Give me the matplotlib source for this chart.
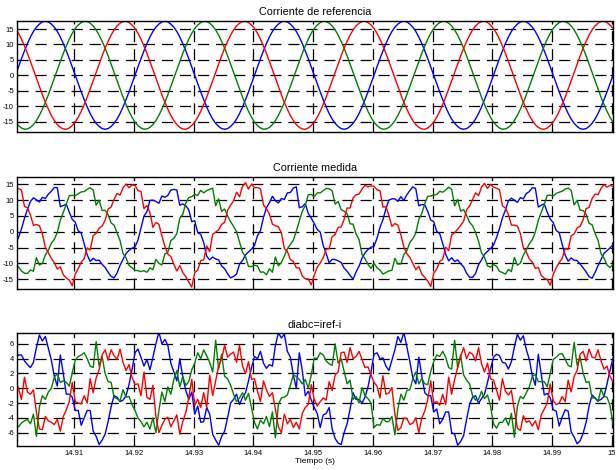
import matplotlib.pyplot as plt
import numpy as np

plt.rcParams['font.family'] = ['Liberation Sans', 'DejaVu Sans']
plt.rcParams['axes.unicode_minus'] = False
plt.rcParams['lines.scale_dashes'] = False

# samples every 0.5 ms, first one at 14.9002 s
t_start = 14.9002
t_step = 0.0005

# reference currents (A)
iref_a = [0.0, 2.7, 5.4, 7.9, 10.3, 12.4, 14.2, 15.6, 16.6, 17.3, 17.5, 17.3, 16.6, 15.6, 14.2, 12.4, 10.3, 7.9, 5.4, 2.7, 0.0, -2.7, -5.4, -7.9, -10.3, -12.4, -14.2, -15.6, -16.6, -17.3, -17.5, -17.3, -16.6, -15.6, -14.2, -12.4, -10.3, -7.9, -5.4, -2.7,
          0.0, 2.7, 5.4, 7.9, 10.3, 12.4, 14.2, 15.6, 16.6, 17.3, 17.5, 17.3, 16.6, 15.6, 14.2, 12.4, 10.3, 7.9, 5.4, 2.7, 0.0, -2.7, -5.4, -7.9, -10.3, -12.4, -14.2, -15.6, -16.6, -17.3, -17.5, -17.3, -16.6, -15.6, -14.2, -12.4, -10.3, -7.9, -5.4, -2.7,
          0.0, 2.7, 5.4, 7.9, 10.3, 12.4, 14.2, 15.6, 16.6, 17.3, 17.5, 17.3, 16.6, 15.6, 14.2, 12.4, 10.3, 7.9, 5.4, 2.7, 0.0, -2.7, -5.4, -7.9, -10.3, -12.4, -14.2, -15.6, -16.6, -17.3, -17.5, -17.3, -16.6, -15.6, -14.2, -12.4, -10.3, -7.9, -5.4, -2.7,
          0.0, 2.7, 5.4, 7.9, 10.3, 12.4, 14.2, 15.6, 16.6, 17.3, 17.5, 17.3, 16.6, 15.6, 14.2, 12.4, 10.3, 7.9, 5.4, 2.7, 0.0, -2.7, -5.4, -7.9, -10.3, -12.4, -14.2, -15.6, -16.6, -17.3, -17.5, -17.3, -16.6, -15.6, -14.2, -12.4, -10.3, -7.9, -5.4, -2.7,
          0.0, 2.7, 5.4, 7.9, 10.3, 12.4, 14.2, 15.6, 16.6, 17.3, 17.5, 17.3, 16.6, 15.6, 14.2, 12.4, 10.3, 7.9, 5.4, 2.7, 0.0, -2.7, -5.4, -7.9, -10.3, -12.4, -14.2, -15.6, -16.6, -17.3, -17.5, -17.3, -16.6, -15.6, -14.2, -12.4, -10.3, -7.9, -5.4, -2.7,
          0.0]
iref_b = [-15.2, -16.3, -17.1, -17.5, -17.4, -16.9, -16.0, -14.7, -13.0, -11.0, -8.8, -6.3, -3.6, -0.9, 1.8, 4.5, 7.1, 9.5, 11.7, 13.6, 15.2, 16.3, 17.1, 17.5, 17.4, 16.9, 16.0, 14.7, 13.0, 11.0, 8.8, 6.3, 3.6, 0.9, -1.8, -4.5, -7.1, -9.5, -11.7, -13.6,
          -15.2, -16.3, -17.1, -17.5, -17.4, -16.9, -16.0, -14.7, -13.0, -11.0, -8.8, -6.3, -3.6, -0.9, 1.8, 4.5, 7.1, 9.5, 11.7, 13.6, 15.2, 16.3, 17.1, 17.5, 17.4, 16.9, 16.0, 14.7, 13.0, 11.0, 8.8, 6.3, 3.6, 0.9, -1.8, -4.5, -7.1, -9.5, -11.7, -13.6,
          -15.2, -16.3, -17.1, -17.5, -17.4, -16.9, -16.0, -14.7, -13.0, -11.0, -8.8, -6.3, -3.6, -0.9, 1.8, 4.5, 7.1, 9.5, 11.7, 13.6, 15.2, 16.3, 17.1, 17.5, 17.4, 16.9, 16.0, 14.7, 13.0, 11.0, 8.8, 6.3, 3.6, 0.9, -1.8, -4.5, -7.1, -9.5, -11.7, -13.6,
          -15.2, -16.3, -17.1, -17.5, -17.4, -16.9, -16.0, -14.7, -13.0, -11.0, -8.8, -6.3, -3.6, -0.9, 1.8, 4.5, 7.1, 9.5, 11.7, 13.6, 15.2, 16.3, 17.1, 17.5, 17.4, 16.9, 16.0, 14.7, 13.0, 11.0, 8.8, 6.3, 3.6, 0.9, -1.8, -4.5, -7.1, -9.5, -11.7, -13.6,
          -15.2, -16.3, -17.1, -17.5, -17.4, -16.9, -16.0, -14.7, -13.0, -11.0, -8.8, -6.3, -3.6, -0.9, 1.8, 4.5, 7.1, 9.5, 11.7, 13.6, 15.2, 16.3, 17.1, 17.5, 17.4, 16.9, 16.0, 14.7, 13.0, 11.0, 8.8, 6.3, 3.6, 0.9, -1.8, -4.5, -7.1, -9.5, -11.7, -13.6,
          -15.2]
iref_c = [15.2, 13.6, 11.7, 9.5, 7.1, 4.5, 1.8, -0.9, -3.6, -6.3, -8.8, -11.0, -13.0, -14.7, -16.0, -16.9, -17.4, -17.5, -17.1, -16.3, -15.2, -13.6, -11.7, -9.5, -7.1, -4.5, -1.8, 0.9, 3.6, 6.3, 8.8, 11.0, 13.0, 14.7, 16.0, 16.9, 17.4, 17.5, 17.1, 16.3,
          15.2, 13.6, 11.7, 9.5, 7.1, 4.5, 1.8, -0.9, -3.6, -6.3, -8.8, -11.0, -13.0, -14.7, -16.0, -16.9, -17.4, -17.5, -17.1, -16.3, -15.2, -13.6, -11.7, -9.5, -7.1, -4.5, -1.8, 0.9, 3.6, 6.3, 8.8, 11.0, 13.0, 14.7, 16.0, 16.9, 17.4, 17.5, 17.1, 16.3,
          15.2, 13.6, 11.7, 9.5, 7.1, 4.5, 1.8, -0.9, -3.6, -6.3, -8.8, -11.0, -13.0, -14.7, -16.0, -16.9, -17.4, -17.5, -17.1, -16.3, -15.2, -13.6, -11.7, -9.5, -7.1, -4.5, -1.8, 0.9, 3.6, 6.3, 8.8, 11.0, 13.0, 14.7, 16.0, 16.9, 17.4, 17.5, 17.1, 16.3,
          15.2, 13.6, 11.7, 9.5, 7.1, 4.5, 1.8, -0.9, -3.6, -6.3, -8.8, -11.0, -13.0, -14.7, -16.0, -16.9, -17.4, -17.5, -17.1, -16.3, -15.2, -13.6, -11.7, -9.5, -7.1, -4.5, -1.8, 0.9, 3.6, 6.3, 8.8, 11.0, 13.0, 14.7, 16.0, 16.9, 17.4, 17.5, 17.1, 16.3,
          15.2, 13.6, 11.7, 9.5, 7.1, 4.5, 1.8, -0.9, -3.6, -6.3, -8.8, -11.0, -13.0, -14.7, -16.0, -16.9, -17.4, -17.5, -17.1, -16.3, -15.2, -13.6, -11.7, -9.5, -7.1, -4.5, -1.8, 0.9, 3.6, 6.3, 8.8, 11.0, 13.0, 14.7, 16.0, 16.9, 17.4, 17.5, 17.1, 16.3,
          15.2]

# current error diabc = iref - i (A)
di_a = [4.0, 4.5, 4.5, 3.7, 3.2, 2.8, 3.5, 5.5, 7.2, 6.4, 7.0, 5.4, 3.8, 1.6, 0.3, 4.5, 2.0, -0.8, -0.8, -1.2, -3.0, -3.0, -5.0, -4.0, -3.0, -3.0, -5.8, -6.5, -7.6, -7.0, -6.2, -4.5, -2.5, -1.0, -1.2, -1.8, -1.6, -1.0, 0.5, 2.5,
        4.8, 5.3, 4.2, 3.0, 3.9, 2.5, 4.2, 6.0, 7.6, 6.0, 6.6, 5.8, 3.4, 2.2, 1.0, 4.0, 1.5, -0.3, -1.5, -0.5, -3.5, -2.4, -4.6, -4.5, -2.6, -3.5, -6.2, -7.0, -7.7, -6.5, -5.8, -4.0, -2.0, -1.5, -0.8, -2.2, -1.2, -0.6, 1.0, 2.8,
        4.3, 4.0, 5.0, 3.4, 2.7, 3.2, 3.0, 5.8, 7.5, 6.8, 7.3, 5.0, 4.2, 1.8, 0.0, 4.8, 2.4, -1.0, -0.4, -1.6, -2.6, -3.4, -5.3, -3.6, -3.4, -2.6, -5.5, -6.8, -7.4, -7.6, -6.0, -4.8, -2.8, -0.6, -1.5, -1.5, -2.0, -1.2, 0.2, 2.2,
        4.6, 4.8, 4.0, 4.1, 3.0, 2.4, 3.8, 5.2, 7.0, 6.2, 7.6, 5.6, 3.6, 1.4, 0.6, 4.2, 1.7, -0.6, -1.0, -1.0, -3.2, -2.8, -4.8, -4.2, -3.2, -3.2, -6.0, -6.2, -7.7, -7.2, -6.4, -4.2, -2.2, -1.2, -1.0, -2.0, -1.4, -0.8, 0.8, 2.6,
        4.2, 4.6, 4.4, 3.5, 3.4, 2.6, 3.6, 5.6, 7.3, 6.5, 7.1, 5.2, 3.9, 1.7, 0.4, 4.6, 1.9, -0.9, -0.7, -1.3, -2.9, -3.1, -5.1, -3.9, -2.9, -3.1, -5.9, -6.6, -7.5, -7.1, -6.1, -4.6, -2.4, -0.9, -1.3, -1.7, -1.5, -1.1, 0.6, 2.4,
        4.1]
di_b = [-5.0, -5.2, -4.7, -4.4, -4.2, -4.8, -3.5, -6.5, -2.5, -1.0, -1.5, -0.5, 0.0, 1.5, 2.0, 0.8, 1.0, 0.8, 0.3, 2.1, 3.8, 4.3, 4.5, 4.8, 4.0, 3.0, 2.8, 6.3, 3.0, 4.3, 2.0, 0.9, 0.8, -1.2, -1.4, -1.7, -0.2, -1.2, -1.1, -2.2,
        -3.0, -4.0, -4.5, -5.2, -4.6, -5.5, -4.0, -6.0, -3.0, -0.5, -1.8, 0.2, -0.8, 1.2, 2.4, 0.2, 1.6, 0.4, 0.9, 2.5, 3.4, 4.8, 4.0, 5.2, 4.4, 3.5, 2.2, 6.5, 2.6, 4.6, 1.6, 1.3, 0.4, -0.8, -1.8, -1.3, -0.6, -1.6, -0.7, -2.6,
        -4.6, -5.5, -4.3, -4.8, -3.8, -5.2, -3.2, -6.7, -2.2, -1.3, -1.2, -0.9, 0.4, 1.8, 1.6, 1.2, 0.6, 1.2, 0.0, 1.8, 4.1, 4.0, 4.8, 4.5, 3.7, 3.3, 3.1, 6.0, 3.4, 4.0, 2.3, 0.6, 1.1, -1.5, -1.1, -2.0, 0.1, -1.0, -1.4, -2.0,
        -5.3, -4.9, -5.0, -4.1, -4.5, -4.5, -3.8, -6.3, -2.8, -0.8, -1.6, -0.3, -0.2, 1.3, 2.2, 0.6, 1.3, 0.6, 0.5, 2.3, 3.6, 4.5, 4.3, 5.0, 4.2, 2.8, 2.6, 6.5, 2.8, 4.5, 1.8, 1.1, 0.6, -1.0, -1.6, -1.5, -0.4, -1.4, -0.9, -2.4,
        -4.8, -5.4, -4.6, -4.6, -4.0, -5.0, -3.4, -6.6, -2.4, -1.1, -1.4, -0.6, 0.2, 1.6, 1.9, 0.9, 0.9, 0.9, 0.2, 2.0, 3.9, 4.2, 4.6, 4.7, 3.9, 3.1, 2.9, 6.2, 3.1, 4.2, 2.1, 0.8, 0.9, -1.3, -1.3, -1.8, -0.1, -1.1, -1.2, -2.3,
        -4.9]
di_c = [1.0, 0.0, -1.5, 1.5, -0.5, -0.8, -0.2, -3.2, -5.5, -5.6, -3.8, -4.4, -4.6, -4.9, -4.2, -5.8, -3.8, -2.9, -1.8, 0.8, -1.8, -2.0, -2.1, -1.0, -2.0, 1.3, -0.6, 1.4, 2.5, 4.5, 5.2, 3.8, 5.2, 4.4, 3.9, 5.3, 3.5, 2.4, 3.2, 1.5,
        0.5, 0.6, -1.0, 2.2, -1.2, -1.5, 0.4, -3.8, -6.0, -5.0, -4.2, -3.9, -5.2, -4.4, -3.6, -6.2, -4.5, -3.3, -1.2, 1.2, -2.3, -1.5, -2.6, -0.6, -2.6, 1.8, -1.0, 1.0, 3.0, 4.0, 5.8, 4.2, 4.6, 4.9, 3.5, 5.8, 3.0, 2.0, 3.6, 1.2,
        1.3, -0.4, -1.8, 1.0, -0.2, -1.1, -0.6, -2.8, -5.2, -6.0, -3.5, -4.8, -4.2, -5.3, -4.6, -5.5, -3.4, -2.6, -2.2, 0.5, -1.5, -2.4, -1.8, -1.3, -1.6, 0.9, -0.3, 1.8, 2.2, 4.8, 4.9, 3.5, 5.5, 4.0, 4.3, 5.0, 3.9, 2.8, 2.9, 1.8,
        0.8, 0.3, -1.3, 1.7, -0.8, -0.6, 0.1, -3.5, -5.7, -5.3, -4.0, -4.1, -4.9, -4.7, -4.0, -6.0, -4.0, -3.1, -1.5, 1.0, -2.0, -1.8, -2.3, -0.8, -2.2, 1.5, -0.8, 1.2, 2.8, 4.3, 5.5, 4.0, 4.9, 4.6, 3.7, 5.5, 3.3, 2.2, 3.4, 1.3,
        1.1, -0.2, -1.6, 1.3, -0.4, -0.9, -0.3, -3.0, -5.4, -5.7, -3.7, -4.6, -4.4, -5.1, -4.4, -5.6, -3.6, -2.8, -2.0, 0.6, -1.7, -2.2, -2.0, -1.1, -1.8, 1.1, -0.5, 1.6, 2.4, 4.6, 5.0, 3.7, 5.3, 4.2, 4.1, 5.2, 3.7, 2.6, 3.0, 1.6,
        0.9]

titles = ['Corriente de referencia', 'Corriente medida', 'diabc=iref-i']
xticks = [14.91, 14.92, 14.93, 14.94, 14.95, 14.96, 14.97, 14.98, 14.99, 15.0]
xtick_labels = ['14.91', '14.92', '14.93', '14.94', '14.95', '14.96', '14.97', '14.98', '14.99', '15']
yticks_i = [-15, -10, -5, 0, 5, 10, 15]
yticks_di = [-6, -4, -2, 0, 2, 4, 6]
colors = ['#0000ff', '#008000', '#ff0000']

t = t_start + t_step * np.arange(len(iref_a))
iref = np.array([iref_a, iref_b, iref_c])
di = np.array([di_a, di_b, di_c])
imeas = iref - di

fig = plt.figure(figsize=(6.16, 4.70), dpi=100)
left, width = 0.0271, 0.968
ax1 = fig.add_axes([left, 0.7198, width, 0.2362])
ax2 = fig.add_axes([left, 0.3851, width, 0.2389])
ax3 = fig.add_axes([left, 0.0517, width, 0.2391])

for j in range(3):
    ax1.plot(t, iref[j], color=colors[j], lw=1.0)
    ax2.plot(t, imeas[j], color=colors[j], lw=1.0)
    ax3.plot(t, di[j], color=colors[j], lw=1.0)

ax1.set_ylim(-18.3, 17.7)
ax2.set_ylim(-18.1, 17.4)
ax3.set_ylim(-7.76, 7.43)

for ax, title in zip([ax1, ax2, ax3], titles):
    ax.set_xlim(14.9004, 15.0002)
    ax.set_xticks(xticks)
    ax.set_title(title, fontsize=7.8, pad=4)
    ax.grid(True, color='k', linestyle=(0, (8, 5)), linewidth=0.9)
    ax.set_axisbelow(True)
    ax.tick_params(direction='in', length=2.5, width=0.8, top=True, right=True,
                   labelsize=5.5, pad=2)
    for s in ax.spines.values():
        s.set_linewidth(1.0)

ax1.set_yticks(yticks_i)
ax2.set_yticks(yticks_i)
ax3.set_yticks(yticks_di)
ax1.set_xticklabels([])
ax2.set_xticklabels([])
ax3.set_xticklabels(xtick_labels)
ax3.tick_params(axis='x', pad=3)
ax3.set_xlabel('Tiempo (s)', fontsize=6, labelpad=1)

fig.savefig('out.png', dpi=100, facecolor='white')
